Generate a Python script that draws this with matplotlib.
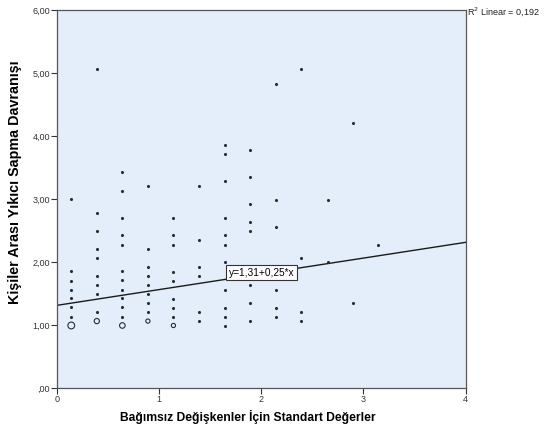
import matplotlib
matplotlib.use("Agg")
import matplotlib.pyplot as plt
import numpy as np

plt.rcParams['font.family'] = ['Liberation Sans', 'DejaVu Sans']

# column x positions (standardised values)
col_x = [0.14, 0.39, 0.64, 0.89, 1.14, 1.39, 1.64, 1.89, 2.14, 2.39, 2.65, 2.90, 3.14]

# dot y values per column
col_a = [3.00, 1.85, 1.70, 1.56, 1.42, 1.28, 1.13]
col_b = [5.06, 2.77, 2.49, 2.20, 2.06, 1.77, 1.63, 1.49, 1.20]
col_c = [3.42, 3.13, 2.70, 2.42, 2.27, 1.85, 1.71, 1.56, 1.42, 1.28, 1.13]
col_d = [3.20, 2.20, 1.92, 1.78, 1.63, 1.49, 1.35, 1.20]
col_e = [2.70, 2.42, 2.27, 1.84, 1.70, 1.41, 1.27, 1.13]
col_f = [3.20, 2.35, 1.92, 1.78, 1.20, 1.06]
col_g = [3.85, 3.71, 3.28, 2.70, 2.42, 2.27, 1.99, 1.56, 1.27, 1.13, 0.98]
col_h = [3.78, 3.35, 2.92, 2.63, 2.49, 1.63, 1.35, 1.06]
col_i = [4.83, 2.99, 2.56, 1.56, 1.27, 1.13]
col_j = [5.06, 2.06, 1.20, 1.06]
col_k = [2.99, 1.99]
col_l = [4.20, 1.35]
col_m = [2.27]
columns = [col_a, col_b, col_c, col_d, col_e, col_f, col_g, col_h,
           col_i, col_j, col_k, col_l, col_m]

# overlapping points drawn as hollow circles
circ_x = [0.14, 0.39, 0.64, 0.89, 1.14]
circ_y = [0.99, 1.06, 0.99, 1.06, 0.99]
circ_size = [24, 14, 16, 9, 9]

# fit
intercept = 1.31
slope = 0.25
r2 = "0,192"

y_ticks = [0, 1, 2, 3, 4, 5, 6]
y_ticklabels = [",00", "1,00", "2,00", "3,00", "4,00", "5,00", "6,00"]
x_ticks = [0, 1, 2, 3, 4]

fig = plt.figure(figsize=(5.53, 4.30), dpi=100)
ax = fig.add_axes([0.103, 0.098, 0.739, 0.879])
ax.set_facecolor('#e3eefa')

dot_color = '#222c42'
for xv, ys in zip(col_x, columns):
    ax.scatter([xv] * len(ys), ys, s=5, color=dot_color, linewidths=0, zorder=3)

for cx, cy, sz in zip(circ_x, circ_y, circ_size):
    ax.scatter([cx], [cy], s=sz, facecolors='none', edgecolors=dot_color,
               linewidths=0.8, zorder=3)

xs = np.array([0, 4])
ax.plot(xs, intercept + slope * xs, color='#1a1a1a', lw=1.0, zorder=2)
ax.text(2.0, intercept + slope * 2.0 + 0.02, "y=1,31+0,25*x", fontsize=7.3,
        ha='center', va='center', zorder=4,
        bbox=dict(boxstyle='square,pad=0.25', fc='white', ec='#333333', lw=0.8))

ax.set_xlim(0, 4)
ax.set_ylim(0, 6)
ax.set_yticks(y_ticks)
ax.set_yticklabels(y_ticklabels)
ax.set_xticks(x_ticks)
ax.tick_params(axis='both', labelsize=6.5, length=4, width=0.8,
               colors='#333333', direction='out', pad=1)
for sp in ax.spines.values():
    sp.set_color('#555555')
    sp.set_linewidth(0.9)

ax.set_xlabel("Bağımsız Değişkenler İçin Standart Değerler", fontsize=8.7,
              fontweight='bold')
ax.xaxis.set_label_coords(0.468, -0.058)
ax.set_ylabel("Kişiler Arası Yıkıcı Sapma Davranışı", fontsize=10.3,
              fontweight='bold')
ax.yaxis.set_label_coords(-0.086, 0.545)

fig.text(0.845, 0.972, "R$^2$ Linear = " + r2, fontsize=6.5, ha='left', va='center',
         color='#222222')

fig.savefig("out.png", dpi=100)
